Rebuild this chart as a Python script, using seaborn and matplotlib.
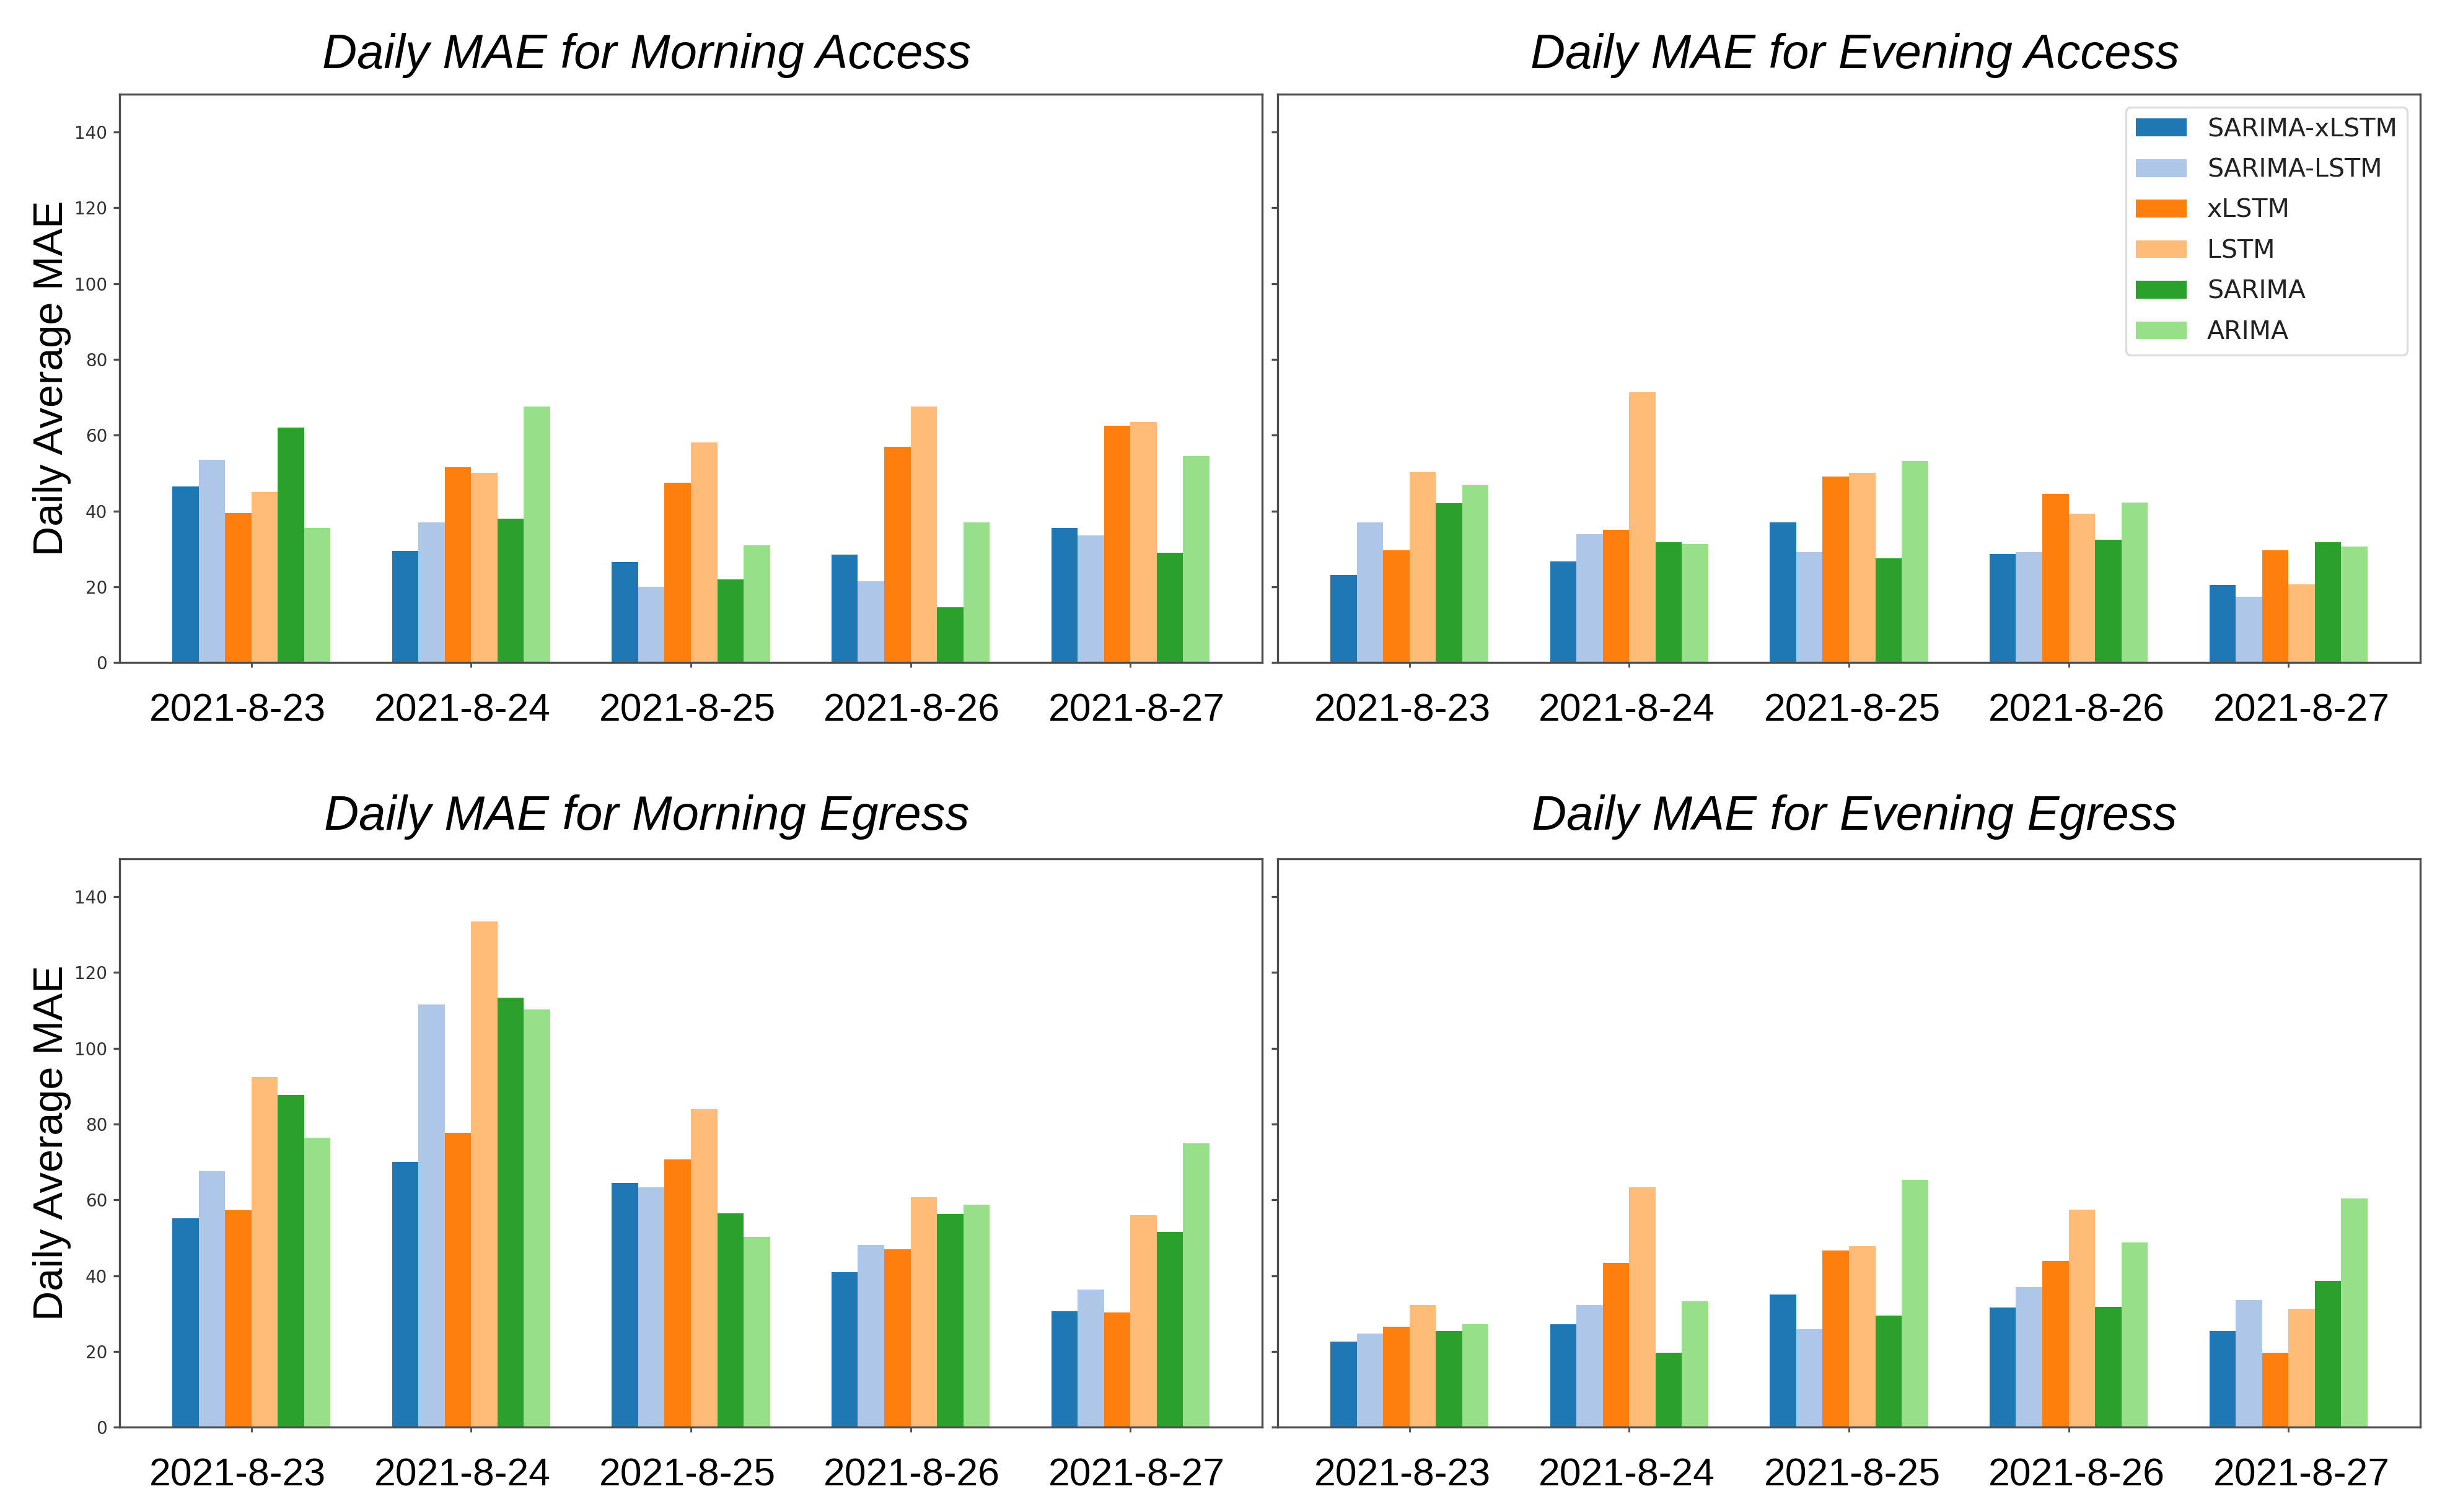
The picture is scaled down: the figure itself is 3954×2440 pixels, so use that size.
import matplotlib
matplotlib.use("Agg")
import matplotlib.pyplot as plt
import matplotlib.transforms as mtransforms
import seaborn as sns
import pandas as pd

# ---------------- data ----------------
dates = ["2021-8-23", "2021-8-24", "2021-8-25", "2021-8-26", "2021-8-27"]
models = ["SARIMA-xLSTM", "SARIMA-LSTM", "xLSTM", "LSTM", "SARIMA", "ARIMA"]
colors = ["#1f77b4", "#aec7e8", "#ff7f0e", "#ffbb78", "#2ca02c", "#98df8a"]

# Morning Access (per model, values for each date)
morning_access_sarima_xlstm = [46.5, 29.5, 26.5, 28.5, 35.5]
morning_access_sarima_lstm = [53.5, 37.0, 20.0, 21.5, 33.5]
morning_access_xlstm = [39.5, 51.5, 47.5, 57.0, 62.5]
morning_access_lstm = [45.0, 50.0, 58.0, 67.5, 63.5]
morning_access_sarima = [62.0, 38.0, 22.0, 14.5, 29.0]
morning_access_arima = [35.5, 67.5, 31.0, 37.0, 54.5]

# Evening Access
evening_access_sarima_xlstm = [23.1, 26.7, 37.0, 28.6, 20.5]
evening_access_sarima_lstm = [36.9, 33.8, 29.2, 29.2, 17.4]
evening_access_xlstm = [29.6, 35.0, 49.1, 44.5, 29.6]
evening_access_lstm = [50.3, 71.3, 50.0, 39.3, 20.7]
evening_access_sarima = [42.0, 31.8, 27.5, 32.4, 31.8]
evening_access_arima = [46.8, 31.2, 53.1, 42.2, 30.6]

# Morning Egress
morning_egress_sarima_xlstm = [55.2, 70.1, 64.4, 40.9, 30.6]
morning_egress_sarima_lstm = [67.6, 111.6, 63.4, 48.1, 36.4]
morning_egress_xlstm = [57.2, 77.7, 70.7, 47.0, 30.2]
morning_egress_lstm = [92.4, 133.5, 83.9, 60.7, 55.9]
morning_egress_sarima = [87.7, 113.4, 56.5, 56.3, 51.6]
morning_egress_arima = [76.4, 110.2, 50.2, 58.8, 74.9]

# Evening Egress
evening_egress_sarima_xlstm = [22.6, 27.1, 35.1, 31.6, 25.4]
evening_egress_sarima_lstm = [24.7, 32.2, 25.8, 37.0, 33.5]
evening_egress_xlstm = [26.5, 43.3, 46.6, 43.8, 19.6]
evening_egress_lstm = [32.2, 63.4, 47.7, 57.5, 31.3]
evening_egress_sarima = [25.4, 19.6, 29.5, 31.8, 38.7]
evening_egress_arima = [27.1, 33.2, 65.3, 48.7, 60.4]

titles = ["Daily MAE for Morning Access", "Daily MAE for Evening Access",
          "Daily MAE for Morning Egress", "Daily MAE for Evening Egress"]
ylabel_text = "Daily Average MAE"
yticks = [0, 20, 40, 60, 80, 100, 120, 140]

panels = [
    [morning_access_sarima_xlstm, morning_access_sarima_lstm, morning_access_xlstm,
     morning_access_lstm, morning_access_sarima, morning_access_arima],
    [evening_access_sarima_xlstm, evening_access_sarima_lstm, evening_access_xlstm,
     evening_access_lstm, evening_access_sarima, evening_access_arima],
    [morning_egress_sarima_xlstm, morning_egress_sarima_lstm, morning_egress_xlstm,
     morning_egress_lstm, morning_egress_sarima, morning_egress_arima],
    [evening_egress_sarima_xlstm, evening_egress_sarima_lstm, evening_egress_xlstm,
     evening_egress_lstm, evening_egress_sarima, evening_egress_arima],
]


def to_frame(series_list):
    rows = []
    for m, vals in zip(models, series_list):
        for d, v in zip(dates, vals):
            rows.append({"date": d, "model": m, "value": v})
    return pd.DataFrame(rows)


# ---------------- plot ----------------
sns.set_style("white")
plt.rcParams["font.family"] = ["DejaVu Sans"]

DPI = 200
fig, axes = plt.subplots(2, 2, figsize=(19.775, 12.2), dpi=DPI, sharey=True)
fig.subplots_adjust(left=0.0488, right=0.9876, top=0.9377, bottom=0.0561,
                    wspace=0.0136, hspace=0.3457)

# small horizontal shifts (pixels) of the date labels, as in the reference
label_shift_left = [-22, -14, -6, 2, 10]
label_shift_right = [-11, -4, 5, 13, 21]

spine_color = "#4d4d4d"
for idx, ax in enumerate(axes.flat):
    df = to_frame(panels[idx])
    sns.barplot(data=df, x="date", y="value", hue="model", order=dates,
                hue_order=models, palette=colors, width=0.72, saturation=1,
                linewidth=0, errorbar=None, ax=ax, legend=(idx == 1))
    ax.set_xlim(-0.6, 4.6)
    ax.set_ylim(0, 150)
    ax.set_yticks(yticks)
    ax.set_xlabel("")
    ax.set_ylabel("")
    left_col = idx % 2 == 0
    ax.set_title(titles[idx], fontsize=28, style="italic", color="black",
                 family=["Liberation Sans"], pad=15 if idx < 2 else 17,
                 x=0.4615 if left_col else 0.505)
    for s in ax.spines.values():
        s.set_visible(True)
        s.set_color(spine_color)
        s.set_linewidth(1.2)
    ax.tick_params(axis="x", which="major", length=3, width=1, color=spine_color,
                   pad=14.5, labelsize=22.5, bottom=True)
    ax.tick_params(axis="y", which="major", length=3.6, width=1.2, color=spine_color,
                   labelsize=10, labelcolor="#333333", left=True)
    shifts = label_shift_left if left_col else label_shift_right
    for lab, dx in zip(ax.get_xticklabels(), shifts):
        lab.set_fontfamily(["Liberation Sans"])
        lab.set_color("black")
        lab.set_transform(lab.get_transform() +
                          mtransforms.ScaledTranslation(dx / DPI, 0, fig.dpi_scale_trans))
    if left_col:
        ax.set_ylabel(ylabel_text, fontsize=24, family=["Liberation Sans"],
                      color="black", labelpad=2)
    else:
        ax.tick_params(axis="y", labelleft=False)
    if idx == 1:
        leg = ax.legend(loc="upper right", fontsize=14.8, frameon=True, title=None,
                        labelspacing=0.62)
        leg.get_frame().set_edgecolor("#d5d5d5")
        leg.get_frame().set_linewidth(1.2)
        for t in leg.get_texts():
            t.set_color("#222222")

fig.savefig("out.png", dpi=DPI, facecolor="white")
